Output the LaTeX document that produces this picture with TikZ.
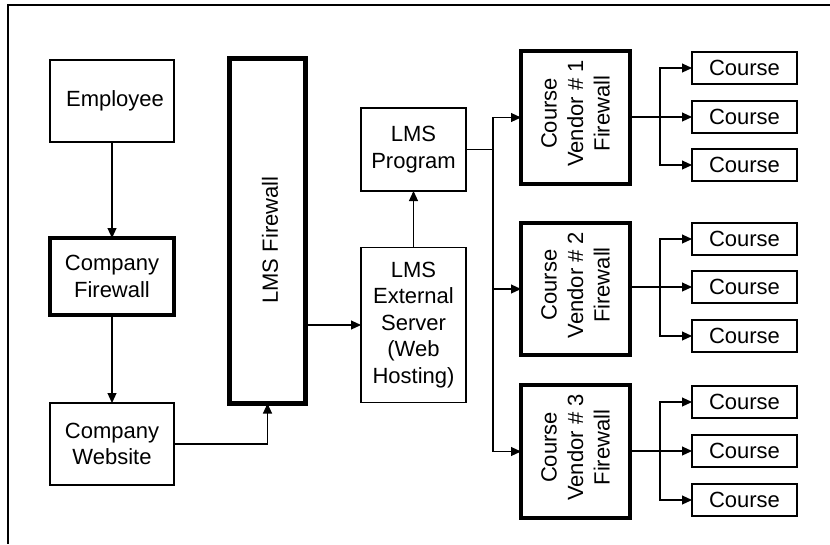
\documentclass[tikz,border=0pt]{standalone}
\usepackage{fontspec}
\setmainfont{Liberation Sans}
\usetikzlibrary{arrows.meta}
\begin{document}
\begin{tikzpicture}[x=1pt,y=-1pt,
  txt/.style={font=\fontsize{22}{26.5}\selectfont},
  box/.style={txt,draw,line width=1.1pt,rectangle,inner sep=0pt,outer sep=0pt,align=center},
  fw/.style={box,line width=4.2pt},
  vtext/.style={txt,rotate=90,align=center,inner sep=0pt},
  course/.style={box,minimum width=105pt,minimum height=32pt},
  arr/.style={line width=1.1pt,-{Triangle[length=10pt,width=9pt]}},
  ln/.style={line width=1.1pt}]
\useasboundingbox (0,0) rectangle (830,544);
\draw[line width=1.5pt] (830,5) -- (8,5) -- (8,544);
% left column
\node[box,minimum width=124pt,minimum height=82pt] (emp) at (112,101) {\hspace{6pt}Employee};
\node[fw,minimum width=124pt,minimum height=77pt] (cfw) at (112,276.5) {Company\\Firewall};
\node[box,minimum width=124pt,minimum height=82pt] (web) at (112,444) {Company\\Website};
\node[fw,minimum width=76pt,minimum height=345pt] (lfw) at (267.5,231) {};
\node[vtext] (lfwt) at (270,240) {LMS Firewall};
\node[box,minimum width=105pt,minimum height=155pt] (ext) at (413.5,325) {LMS\\External\\Server\\(Web\\Hosting)};
\node[box,minimum width=105pt,minimum height=83pt] (prog) at (413.5,149.5) {LMS\\Program};
% vendors
\node[fw,minimum width=109pt,minimum height=133pt] (v1) at (575.5,117.5) {};
\node[vtext,xshift=4pt] (v1t) at (v1.center) {Course\\Vendor \# 1\\Firewall};
\node[fw,minimum width=109pt,minimum height=132pt] (v2) at (575.5,289) {};
\node[vtext,xshift=4pt] (v2t) at (v2.center) {Course\\Vendor \# 2\\Firewall};
\node[fw,minimum width=109pt,minimum height=133pt] (v3) at (575.5,451.5) {};
\node[vtext,xshift=4pt] (v3t) at (v3.center) {Course\\Vendor \# 3\\Firewall};
% courses
\node[course] (c11) at (744.5,68) {Course};
\node[course] (c12) at (744.5,117) {Course};
\node[course] (c13) at (744.5,165) {Course};
\node[course] (c21) at (744.5,239) {Course};
\node[course] (c22) at (744.5,287) {Course};
\node[course] (c23) at (744.5,336) {Course};
\node[course] (c31) at (744.5,402) {Course};
\node[course] (c32) at (744.5,451) {Course};
\node[course] (c33) at (744.5,500) {Course};
% connectors
\draw[arr] (emp.south) -- (cfw.north);
\draw[arr] (cfw.south) -- (web.north);
\draw[arr] (web.east) -| (lfw.south);
\draw[arr] (lfw.east |- ext.west) -- (ext.west);
\draw[arr] (ext.north) -- (prog.south);
\coordinate (bx) at (493,0);
\draw[ln] (prog.east) -- (bx |- prog.east);
\draw[arr] (bx |- prog.east) |- (v1.west);
\draw[arr] (bx |- prog.east) |- (v2.west);
\draw[arr] (bx |- prog.east) |- (v3.west);
\coordinate (by) at (660,0);
\draw[arr] (v1.east |- c12.west) -- (c12.west);
\draw[arr] (by |- c12.west) |- (c11.west);
\draw[arr] (by |- c12.west) |- (c13.west);
\draw[arr] (v2.east |- c22.west) -- (c22.west);
\draw[arr] (by |- c22.west) |- (c21.west);
\draw[arr] (by |- c22.west) |- (c23.west);
\draw[arr] (v3.east |- c32.west) -- (c32.west);
\draw[arr] (by |- c32.west) |- (c31.west);
\draw[arr] (by |- c32.west) |- (c33.west);
\end{tikzpicture}
\end{document}
